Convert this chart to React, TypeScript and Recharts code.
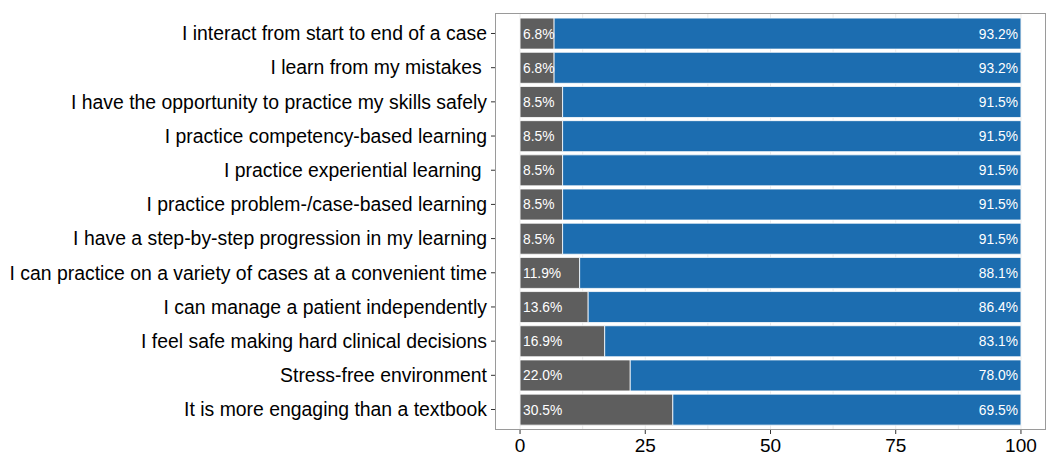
import React from "react";
import { BarChart, Bar, XAxis, YAxis, LabelList, CartesianGrid } from "recharts";

const categories = [
  "I interact from start to end of a case",
  "I learn from my mistakes ",
  "I have the opportunity to practice my skills safely",
  "I practice competency-based learning",
  "I practice experiential learning ",
  "I practice problem-/case-based learning",
  "I have a step-by-step progression in my learning",
  "I can practice on a variety of cases at a convenient time",
  "I can manage a patient independently",
  "I feel safe making hard clinical decisions",
  "Stress-free environment",
  "It is more engaging than a textbook",
];
const disagreeValues = [6.8, 6.8, 8.5, 8.5, 8.5, 8.5, 8.5, 11.9, 13.6, 16.9, 22.0, 30.5];
const agreeValues = [93.2, 93.2, 91.5, 91.5, 91.5, 91.5, 91.5, 88.1, 86.4, 83.1, 78.0, 69.5];
const xTicks = [0, 25, 50, 75, 100];
const gridValues = [0, 12.5, 25, 37.5, 50, 62.5, 75, 87.5, 100];

const data = categories.map((label, i) => ({
  label,
  low: disagreeValues[i],
  high: agreeValues[i],
}));

const FONT = "'Liberation Sans', Arial, Helvetica, sans-serif";
const fmt = (v: any) => `${Number(v).toFixed(1)}%`;

const YTick = (props: any) => {
  const { x, y, payload } = props;
  return (
    <text
      x={x}
      y={y}
      dy="0.35em"
      textAnchor="end"
      fontSize={19.4}
      fill="#000"
      fontFamily={FONT}
      style={{ whiteSpace: "pre" }}
    >
      {payload.value}
    </text>
  );
};

const makeLabel = (side: "left" | "right") => (props: any) => {
  const { x, y, width, height, value } = props;
  const tx = side === "left" ? x + 3 : x + width - 3;
  return (
    <text
      x={tx}
      y={y + height / 2}
      dy="0.36em"
      textAnchor={side === "left" ? "start" : "end"}
      fontSize={13.8}
      fill="#fff"
      fontFamily={FONT}
    >
      {fmt(value)}
    </text>
  );
};

export default function App() {
  return (
    <div style={{ position: "absolute", left: 0, top: 0, width: 1048, height: 456, background: "#fff" }}>
      <BarChart
        width={1048}
        height={456}
        data={data}
        layout="vertical"
        margin={{ top: 13, right: 2, bottom: 0, left: 0 }}
        barCategoryGap="5%"
        style={{ fontFamily: FONT }}
      >
        <CartesianGrid horizontal={false} vertical verticalValues={gridValues} stroke="#ebebeb" />
        <XAxis
          type="number"
          domain={[-5, 105]}
          ticks={xTicks}
          allowDataOverflow
          axisLine={false}
          tickSize={4}
          tickMargin={5}
          height={26}
          tickLine={{ stroke: "#333" }}
          tick={{ fontSize: 19, fill: "#000", fontFamily: FONT }}
        />
        <YAxis
          type="category"
          dataKey="label"
          width={495}
          axisLine={false}
          tickSize={4}
          tickMargin={4}
          tickLine={{ stroke: "#333" }}
          padding={{ top: 3.4, bottom: 3.4 }}
          tick={<YTick />}
          interval={0}
        />
        <Bar dataKey="low" stackId="s" fill="#5e5e5e" stroke="#fff" strokeWidth={0.8} isAnimationActive={false}>
          <LabelList dataKey="low" content={makeLabel("left")} />
        </Bar>
        <Bar dataKey="high" stackId="s" fill="#1c6db0" stroke="#fff" strokeWidth={0.8} isAnimationActive={false}>
          <LabelList dataKey="high" content={makeLabel("right")} />
        </Bar>
      </BarChart>
      <div
        style={{
          position: "absolute",
          left: 495,
          top: 13,
          width: 551,
          height: 417,
          boxSizing: "border-box",
          border: "1.2px solid #9a9a9a",
          pointerEvents: "none",
        }}
      />
    </div>
  );
}
